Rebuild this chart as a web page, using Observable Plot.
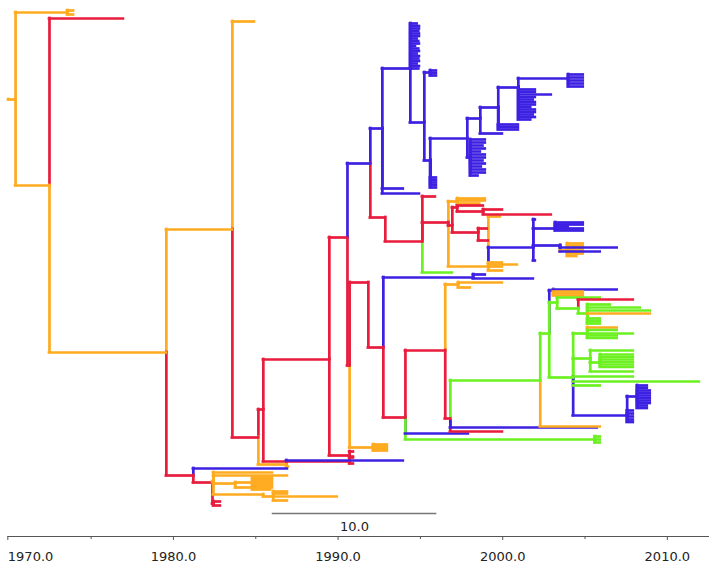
<!DOCTYPE html>
<html><head><meta charset="utf-8">
<script src="https://cdn.jsdelivr.net/npm/d3@7"></script>
<script src="https://cdn.jsdelivr.net/npm/@observablehq/plot@0.6"></script>
<style>body{margin:0;background:#fff}</style>
</head><body><div id="chart"></div>
<script>
// node: [id, parent, time (year), row, state]
const backbone = [
  ["root", null, 1969.98, 99, "O"],
  ["A", "root", 1970.41, 99, "O"],
  ["a1", "A", 1973.56, 12, "O"],
  ["a1x", "a1", 1973.93, 10, "O"],
  ["a1y", "a1", 1973.93, 14, "O"],
  ["C", "A", 1972.47, 185, "O"],
  ["r1", "C", 1976.96, 18, "R"],
  ["D", "C", 1979.57, 352, "O"],
  ["E", "D", 1983.58, 229, "O"],
  ["o2", "E", 1984.92, 21, "O"],
  ["G", "E", 1985.16, 437, "R"],
  ["I", "G", 1985.46, 409, "R"],
  ["J", "I", 1989.47, 359, "R"],
  ["K", "I", 1990.70, 461, "R"],
  ["k1", "K", 1990.93, 456, "R"],
  ["k2", "K", 1990.93, 463, "R"],
  ["H", "G", 1986.86, 464, "O"],
  ["h1", "H", 1993.96, 460, "B"],
  ["h2", "H", 1986.98, 466, "O"]
];
const lowerClade = [
  ["F", "D", 1981.21, 475, "R"],
  ["f1", "F", 1986.92, 468, "B"],
  ["F2", "F", 1982.37, 482, "R"],
  ["r3", "F2", 1982.43, 503, "R"],
  ["r3a", "r3", 1982.85, 501, "R"],
  ["r3b", "r3", 1982.85, 505, "R"],
  ["O1", "F2", 1982.43, 481, "O"],
  ["o1a", "O1", 1986.01, 472, "O"],
  ["o1b", "O1", 1986.92, 475, "O"],
  ["O2", "O1", 1983.76, 483, "O"],
  ["O2b", "O2", 1984.8, 482, "O"],
  ["o2a", "O2b", 1986.01, 477, "O"],
  ["o2b", "O2b", 1986.01, 479, "O"],
  ["o2c", "O2b", 1986.01, 481, "O"],
  ["o2d", "O2b", 1986.01, 483, "O"],
  ["o2e", "O2b", 1986.01, 485, "O"],
  ["o2g", "O2b", 1986.01, 487, "O"],
  ["o2h", "O2b", 1985.9, 489, "O"],
  ["o2f", "O2", 1984.9, 487, "O"],
  ["O3", "O1", 1985.46, 494, "O"],
  ["O3a", "O3", 1986.07, 496, "O"],
  ["o3a1", "O3a", 1986.92, 491, "O"],
  ["o3a2", "O3a", 1986.92, 493, "O"],
  ["o3a3", "O3a", 1989.95, 496, "O"],
  ["o3a4", "O3a", 1986.92, 500, "O"]
];
const midClade = [
  ["J1", "J", 1990.57, 237, "R"],
  ["Jk", "J", 1990.70, 455, "R"],
  ["jk1", "Jk", 1990.93, 451, "R"],
  ["jk2", "Jk", 1990.93, 457, "R"],
  ["R2", "J1", 1990.70, 365, "R"],
  ["O4", "R2", 1992.14, 447, "O"],
  ["o4a", "O4", 1992.99, 444, "O"],
  ["o4b", "O4", 1992.99, 446, "O"],
  ["o4c", "O4", 1992.99, 448, "O"],
  ["o4d", "O4", 1992.99, 450, "O"],
  ["R3", "R2", 1991.84, 282, "R"],
  ["R5", "R3", 1992.75, 347, "R"],
  ["Bq", "J1", 1991.96, 163, "B"],
  ["Bu", "Bq", 1992.69, 128, "B"],
  ["R4", "Bq", 1992.87, 217, "R"],
  ["bu1", "Bu", 1993.96, 188, "B"],
  ["bu2", "Bu", 1994.94, 193, "B"],
  ["R6", "R4", 1995.12, 241, "R"],
  ["r6a", "R6", 1995.91, 196, "R"],
  ["g6", "R6", 1996.94, 272, "G"],
  ["R7", "R6", 1996.70, 222, "R"],
  ["O5", "R7", 1997.24, 201, "O"],
  ["o5a", "O5", 1998.94, 198, "O"],
  ["o5b", "O5", 1998.94, 200, "O"],
  ["o5c", "O5", 1998.6, 203, "O"],
  ["O6", "R7", 1999.13, 266, "O"],
  ["o6a", "O6", 1999.86, 216, "O"],
  ["o6b", "O6", 1999.98, 262, "O"],
  ["o6e", "O6", 1999.98, 266, "O"],
  ["o6c", "O6", 1999.98, 270, "O"],
  ["o6d", "O6", 2000.89, 264, "O"],
  ["R8", "R7", 1996.94, 225, "R"],
  ["R9", "R8", 1997.24, 207, "R"],
  ["r9a", "R9", 1998.82, 205, "R"],
  ["R10", "R9", 1998.82, 211, "R"],
  ["r10a", "R10", 1999.98, 209, "R"],
  ["r10b", "R10", 2002.95, 214, "R"],
  ["R11", "R8", 1998.52, 232, "R"],
  ["r11a", "R11", 1999.06, 228, "R"],
  ["r11b", "R11", 1999.13, 240, "R"],
  ["B20", "O6", 2001.86, 247, "B"],
  ["b20a", "B20", 2001.98, 219, "B"],
  ["b20b", "B20", 2001.98, 260, "B"],
  ["B21", "B20", 2003.19, 228, "B"],
  ["b21a", "B21", 2004.89, 222, "B"],
  ["b21b", "B21", 2004.89, 224, "B"],
  ["b21c", "B21", 2003.98, 226, "B"],
  ["b21d", "B21", 2004.89, 228, "B"],
  ["b21e", "B21", 2004.89, 230, "B"],
  ["B22", "B20", 2003.49, 245, "B"],
  ["O9", "B22", 2003.92, 250, "O"],
  ["o9a", "O9", 2004.89, 243, "O"],
  ["o9b", "O9", 2004.89, 245.5, "O"],
  ["o9c", "O9", 2004.89, 248, "O"],
  ["o9d", "O9", 2004.89, 250.5, "O"],
  ["o9e", "O9", 2004.89, 253, "O"],
  ["o9f", "O9", 2004.5, 255.5, "O"],
  ["b22a", "B22", 2006.95, 247, "B"],
  ["b22b", "B22", 2005.92, 251, "B"]
];
const lowerMid = [
  ["B23", "R5", 1998.21, 277, "B"],
  ["b23a", "B23", 2001.86, 278, "B"],
  ["b23b", "B23", 1998.94, 274, "B"],
  ["R13", "R5", 1994.09, 417, "R"],
  ["b13", "R13", 1997.91, 433, "B"],
  ["G0", "R13", 2005.6, 439, "G"],
  ["g0a", "G0", 2005.92, 436, "G"],
  ["g0b", "G0", 2005.92, 439, "G"],
  ["g0c", "G0", 2005.92, 442, "G"],
  ["N1", "R13", 1996.51, 350, "R"],
  ["O8", "N1", 1997.30, 284, "O"],
  ["o8a", "O8", 1999.98, 282, "O"],
  ["o8b", "O8", 1998.03, 287, "O"],
  ["N2", "N1", 1996.82, 418, "R"],
  ["n2r", "N2", 1999.98, 431, "R"],
  ["n2b", "N2", 2005.74, 427, "B"],
  ["G1", "N2", 2002.28, 380, "G"],
  ["g1o", "G1", 2005.92, 426, "O"],
  ["G2", "G1", 2002.83, 333, "G"],
  ["B30", "G2", 2003.07, 290, "B"],
  ["b30a", "B30", 2006.95, 289, "B"],
  ["b30b", "B30", 2004.89, 291, "O"],
  ["b30c", "B30", 2004.89, 293, "O"],
  ["b30d", "B30", 2004.89, 295, "O"],
  ["G3", "G2", 2003.31, 302, "G"],
  ["g3a", "G3", 2005.92, 297, "G"],
  ["G4", "G3", 2004.59, 308, "G"],
  ["g4r", "G4", 2007.93, 299, "R"],
  ["G5", "G4", 2005.14, 313, "G"],
  ["g5a", "G5", 2006.53, 304, "G"],
  ["g5b", "G5", 2008.35, 307, "G"],
  ["g5c", "G5", 2008.96, 310, "G"],
  ["g5d", "G5", 2008.96, 313, "O"],
  ["g5e", "G5", 2005.92, 318, "G"],
  ["g5g", "G5", 2005.92, 320.5, "G"],
  ["g5f", "G5", 2005.92, 323, "G"],
  ["G6", "G2", 2004.28, 377, "G"],
  ["G7", "G6", 2005.14, 333, "G"],
  ["g7a", "G7", 2006.95, 327, "O"],
  ["g7d", "G7", 2006.95, 329.5, "G"],
  ["g7b", "G7", 2007.93, 333, "G"],
  ["g7e", "G7", 2006.95, 335, "G"],
  ["g7c", "G7", 2006.95, 337.5, "G"],
  ["G8", "G6", 2005.32, 358, "G"],
  ["g8a", "G8", 2007.93, 350, "G"],
  ["G9", "G8", 2005.92, 362, "G"],
  ["g9a", "G9", 2007.93, 354, "G"],
  ["g9b", "G9", 2007.93, 356.5, "G"],
  ["g9c", "G9", 2007.93, 359, "G"],
  ["g9d", "G9", 2007.93, 361.5, "G"],
  ["g9e", "G9", 2007.93, 364, "G"],
  ["g9f", "G9", 2007.93, 366.5, "G"],
  ["g8b", "G8", 2007.93, 371, "G"],
  ["g6a", "G6", 2007.93, 376, "G"],
  ["g6long", "G6", 2011.94, 381, "G"],
  ["g6b", "G6", 2005.92, 385, "G"],
  ["B40", "G6", 2007.56, 415, "B"],
  ["b40a", "B40", 2007.93, 410, "B"],
  ["b40b", "B40", 2007.93, 413, "B"],
  ["b40c", "B40", 2007.93, 416, "B"],
  ["b40d", "B40", 2007.93, 419, "B"],
  ["b40e", "B40", 2007.93, 421.5, "B"],
  ["B42", "B40", 2008.17, 396, "B"],
  ["b42a", "B42", 2008.78, 385, "B"],
  ["b42b", "B42", 2008.78, 387.5, "B"],
  ["b42c", "B42", 2008.96, 390, "B"],
  ["b42d", "B42", 2008.96, 392.5, "B"],
  ["b42e", "B42", 2008.96, 395, "B"],
  ["b42f", "B42", 2008.96, 397.5, "B"],
  ["b42g", "B42", 2008.96, 400, "B"],
  ["b42h", "B42", 2008.96, 402.5, "B"],
  ["b42i", "B42", 2008.78, 405, "B"],
  ["b42j", "B42", 2008.78, 407.5, "B"]
];
const blueClade = [
  ["Btop", "Bu", 1994.39, 68, "B"],
  ["t1", "Btop", 1994.8, 23, "B"],
  ["t2", "Btop", 1994.94, 25.5, "B"],
  ["t3", "Btop", 1994.94, 28, "B"],
  ["t4", "Btop", 1994.9, 30.5, "B"],
  ["t5", "Btop", 1994.94, 33, "B"],
  ["t6", "Btop", 1994.94, 35.5, "B"],
  ["t7", "Btop", 1994.8, 38, "B"],
  ["t8", "Btop", 1994.9, 40.5, "B"],
  ["t9", "Btop", 1994.94, 43, "B"],
  ["t10", "Btop", 1994.7, 45.5, "B"],
  ["t11", "Btop", 1994.9, 48, "B"],
  ["t12", "Btop", 1994.94, 50.5, "B"],
  ["t13", "Btop", 1994.8, 53, "B"],
  ["t14", "Btop", 1994.94, 55.5, "B"],
  ["t15", "Btop", 1994.9, 58, "B"],
  ["t16", "Btop", 1994.94, 60.5, "B"],
  ["t17", "Btop", 1994.8, 63, "B"],
  ["t18", "Btop", 1994.94, 65.5, "B"],
  ["t19", "Btop", 1994.9, 68, "B"],
  ["Bmid", "Btop", 1995.24, 122, "B"],
  ["Bb1", "Bmid", 1995.6, 72, "B"],
  ["bb1a", "Bb1", 1995.97, 70, "B"],
  ["bb1b", "Bb1", 1995.97, 72.5, "B"],
  ["bb1c", "Bb1", 1995.97, 75, "B"],
  ["B5", "Bmid", 1995.6, 160, "B"],
  ["bb2a", "B5", 1995.97, 177, "B"],
  ["bb2b", "B5", 1995.97, 179.5, "B"],
  ["bb2c", "B5", 1995.97, 182, "B"],
  ["bb2d", "B5", 1995.97, 184.5, "B"],
  ["bb2e", "B5", 1995.97, 187, "B"],
  ["Bsub", "B5", 1997.85, 138, "B"],
  ["B10", "Bsub", 1998.03, 157, "B"],
  ["b10a", "B10", 1998.94, 139, "B"],
  ["b10b", "B10", 1998.94, 142, "B"],
  ["b10c", "B10", 1998.8, 145, "B"],
  ["b10d", "B10", 1998.94, 148, "B"],
  ["b10e", "B10", 1998.64, 151, "B"],
  ["b10f", "B10", 1998.94, 154, "B"],
  ["b10g", "B10", 1998.94, 157, "B"],
  ["b10h", "B10", 1998.8, 160, "B"],
  ["b10i", "B10", 1998.94, 163, "B"],
  ["b10j", "B10", 1998.7, 166, "B"],
  ["b10k", "B10", 1998.94, 169, "B"],
  ["b10l", "B10", 1998.94, 172, "B"],
  ["b10m", "B10", 1998.5, 175, "B"],
  ["B6", "Bsub", 1998.64, 118, "B"],
  ["b6a", "B6", 1999.98, 133, "B"],
  ["B7", "B6", 1999.73, 107, "B"],
  ["b7a", "B7", 2000.95, 124, "B"],
  ["b7b", "B7", 2000.95, 126.5, "B"],
  ["b7c", "B7", 2000.95, 129, "B"],
  ["B8", "B7", 2000.95, 87, "B"],
  ["b8a", "B8", 2002.95, 94, "B"],
  ["b8b", "B8", 2001.98, 89, "B"],
  ["b8c", "B8", 2001.98, 91.5, "B"],
  ["b8d", "B8", 2001.98, 96.5, "B"],
  ["b8e", "B8", 2001.85, 99, "B"],
  ["b8f", "B8", 2001.98, 101.5, "B"],
  ["b8g", "B8", 2001.98, 104, "B"],
  ["b8h", "B8", 2001.7, 106.5, "B"],
  ["b8i", "B8", 2001.98, 109, "B"],
  ["b8j", "B8", 2001.98, 111.5, "B"],
  ["b8k", "B8", 2001.85, 114, "B"],
  ["b8l", "B8", 2001.98, 116.5, "B"],
  ["b8m", "B8", 2001.7, 119, "B"],
  ["B9", "B8", 2003.98, 78, "B"],
  ["b9a", "B9", 2004.89, 74, "B"],
  ["b9b", "B9", 2004.89, 77, "B"],
  ["b9c", "B9", 2004.89, 80, "B"],
  ["b9d", "B9", 2004.89, 83, "B"],
  ["b9e", "B9", 2004.89, 86, "B"]
];
const states = ["O", "R", "B", "G"];
const stateColors = ["#ffab1f", "#e81c3d", "#3d21e3", "#6cf020"];
const majorTicks = [1970, 1980, 1990, 2000, 2010];
const minorTicks = [1975, 1985, 1995, 2005];
const scaleBar = {start: 1986, length: 10};

const nodes = [...backbone, ...lowerClade, ...midClade, ...lowerMid, ...blueClade];
const byId = new Map(nodes.map(d => [d[0], d]));
const edges = nodes.filter(d => d[1] !== null).map(d => {
  const p = byId.get(d[1]);
  return {t0: p[2], y0: p[3], t: d[2], y: d[3], c: d[4]};
});

const AXIS_Y = 536, BAR_Y = 513, BAR_LABEL_Y = 530;
const chart = Plot.plot({
  width: 713, height: 570,
  marginTop: 0, marginBottom: 34, marginLeft: 7.5, marginRight: 5,
  style: {fontFamily: "DejaVu Sans", fontSize: "13px", color: "#222"},
  x: {domain: [1969.95, 2012.5], axis: null},
  y: {domain: [0, AXIS_Y], reverse: true, axis: null},
  color: {domain: states, range: stateColors},
  marks: [
    Plot.ruleX(edges, {x: "t0", y1: "y0", y2: "y", stroke: "c", strokeWidth: 2.7, strokeLinecap: "square"}),
    Plot.ruleY(edges, {y: "y", x1: "t0", x2: "t", stroke: "c", strokeWidth: 2.7, strokeLinecap: "square"}),
    Plot.ruleY([scaleBar], {y: () => BAR_Y, x1: d => d.start, x2: d => d.start + d.length, stroke: "#777", strokeWidth: 1.5}),
    Plot.text([scaleBar], {x: d => d.start + d.length / 2, y: () => BAR_LABEL_Y, text: d => d.length.toFixed(1), lineAnchor: "bottom", fill: "#222", fontSize: 13}),
    Plot.frame({anchor: "bottom", stroke: "#555"}),
    Plot.axisX({ticks: majorTicks.slice(1), tickFormat: d => d.toFixed(1), tickSize: 4, tickPadding: 11, stroke: "#555", fill: "#222", fontSize: 13}),
    Plot.axisX({ticks: majorTicks.slice(0, 1), tickFormat: d => d.toFixed(1), tickSize: 4, tickPadding: 11, textAnchor: "start", dx: -1, stroke: "#555", fill: "#222", fontSize: 13}),
    Plot.axisX({ticks: minorTicks, tickFormat: () => "", tickSize: 3, stroke: "#555"})
  ]
});
document.getElementById("chart").appendChild(chart);
</script>
</body></html>
